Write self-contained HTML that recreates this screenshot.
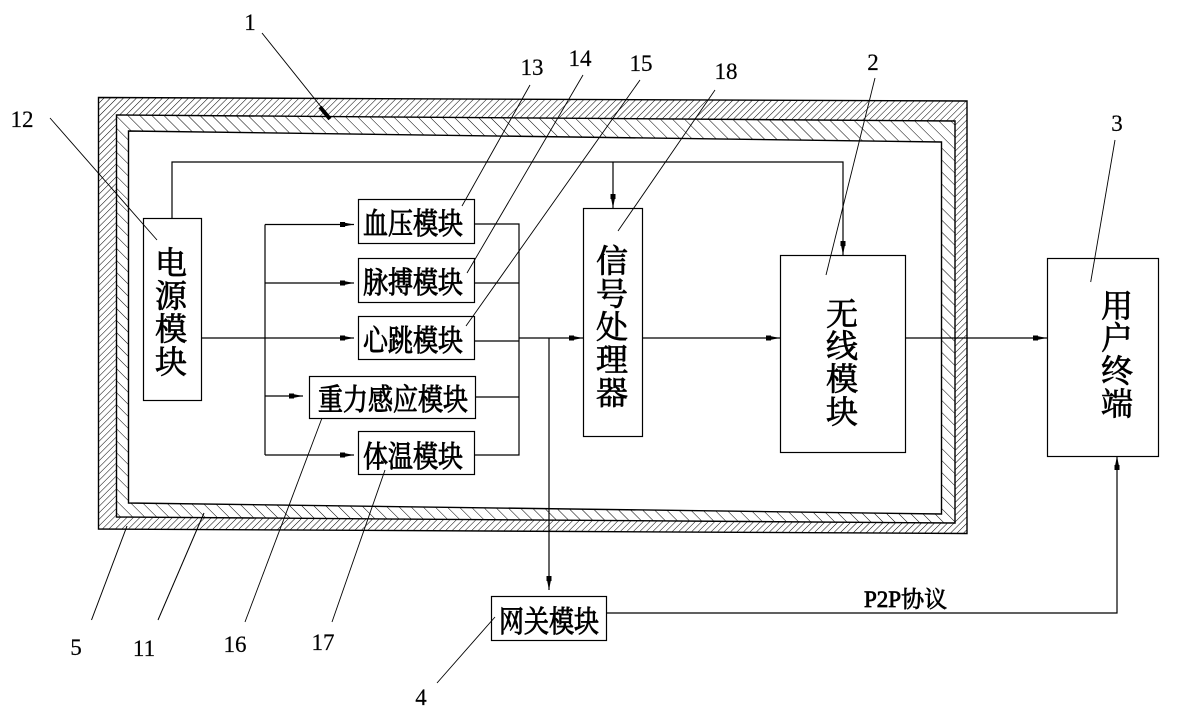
<!DOCTYPE html>
<html>
<head>
<meta charset="utf-8">
<style>
html,body{margin:0;padding:0;background:#fff;width:1197px;height:719px;overflow:hidden}
svg{display:block}
.z{font-family:"Liberation Serif","Noto Serif CJK SC",serif;font-weight:400;fill:#000;stroke:#000;stroke-width:.75}
.n{font-family:"Liberation Serif",serif;font-size:23px;fill:#000;stroke:#000;stroke-width:.2;text-anchor:middle}
</style>
</head>
<body>
<svg width="1197" height="719" viewBox="0 0 1197 719" xmlns="http://www.w3.org/2000/svg">
<defs>
<pattern id="h1" width="4.6" height="4.6" patternUnits="userSpaceOnUse" patternTransform="rotate(45)">
<rect width="4.6" height="4.6" fill="#fff"/><line x1="0" y1="0" x2="0" y2="4.6" stroke="#000" stroke-width="1"/>
</pattern>
<pattern id="h2" width="8.5" height="8.5" patternUnits="userSpaceOnUse" patternTransform="rotate(-45)">
<rect width="8.5" height="8.5" fill="#fff"/><line x1="0" y1="0" x2="0" y2="8.5" stroke="#000" stroke-width="1"/>
</pattern>
<marker id="a" markerWidth="16" markerHeight="8" refX="15" refY="4" orient="auto" markerUnits="userSpaceOnUse">
<path d="M1 1.5L6 1.5L6 2.2L15 4L6 5.8L6 6.5L1 6.5Z" fill="#000"/>
</marker>
</defs>

<polygon points="98.5,97.5 967,101 967,533.5 98.5,529" fill="url(#h1)" stroke="#000" stroke-width="1.4"/>
<polygon points="116.5,115 955,121 955,523 116.5,517" fill="url(#h2)" stroke="#000" stroke-width="1.4"/>
<polygon points="128.5,131 941.5,142 941.5,514 128.5,503" fill="#fff" stroke="#000" stroke-width="1.4"/>
<path d="M262 33L330 118" fill="none" stroke="#000" stroke-width="1"/>
<path d="M91.5 620L127 526" fill="none" stroke="#000" stroke-width="1"/>
<path d="M158 620L204 513" fill="none" stroke="#000" stroke-width="1"/>
<path d="M320 107L330 119" stroke="#000" stroke-width="4" fill="none"/>

<g fill="none" stroke="#000" stroke-width="1.2">
<path d="M172 218V162H843V255" marker-end="url(#a)"/>
<path d="M613 162V208" marker-end="url(#a)"/>
<path d="M201 338H354" marker-end="url(#a)"/>
<path d="M265 224.500V455"/>
<path d="M265 224.500H354" marker-end="url(#a)"/>
<path d="M265 283H354" marker-end="url(#a)"/>
<path d="M265 396H303" marker-end="url(#a)"/>
<path d="M265 455H354" marker-end="url(#a)"/>
<path d="M474 224H519V455H474"/>
<path d="M474 283H519"/>
<path d="M474 341H519"/>
<path d="M475 397H519"/>
<path d="M519 338H583" marker-end="url(#a)"/>
<path d="M549 338V590" marker-end="url(#a)"/>
<path d="M642 338H780" marker-end="url(#a)"/>
<path d="M905 338H1047" marker-end="url(#a)"/>
<path d="M606 613H1117V456" marker-end="url(#a)"/>
</g>

<g fill="#fff" stroke="#000" stroke-width="1.2">
<rect x="143.500" y="218.500" width="58" height="182"/>
<rect x="358.500" y="199.500" width="116" height="44"/>
<rect x="358.500" y="258.500" width="116" height="44"/>
<rect x="358.500" y="316.500" width="116" height="43"/>
<rect x="309.500" y="376.500" width="166" height="42"/>
<rect x="358.500" y="431.500" width="116" height="43"/>
<rect x="583.500" y="208.500" width="59" height="228"/>
<rect x="780.500" y="255.500" width="125" height="197"/>
<rect x="1047.500" y="258.500" width="111" height="198"/>
<rect x="491.500" y="596.500" width="115" height="44"/>
</g>

<g fill="none" stroke="#000" stroke-width=".9">
<path d="M50 118L157 240"/>
<path d="M530 85L462 206"/>
<path d="M583 75L467 273"/>
<path d="M640 80L466 326"/>
<path d="M715 90L618 231"/>
<path d="M875 78L826 275"/>
<path d="M1115 140L1090.700 282"/>
<path d="M245 622L322 418"/>
<path d="M332 622L385 470"/>
<path d="M437 683L495 617"/>
</g>

<g class="z" font-size="25">
<text transform="translate(363,234) scale(1,1.2)">血压模块</text>
<text transform="translate(363,293) scale(1,1.2)">脉搏模块</text>
<text transform="translate(363,351) scale(1,1.2)">心跳模块</text>
<text transform="translate(318,410) scale(1,1.2)">重力感应模块</text>
<text transform="translate(363,467) scale(1,1.2)">体温模块</text>
<text transform="translate(499,632) scale(1,1.2)">网关模块</text>
</g>
<g class="z" font-size="32" text-anchor="middle">
<text x="171" y="274">电</text>
<text x="171" y="307">源</text>
<text x="171" y="340">模</text>
<text x="171" y="373">块</text>
<text x="612" y="272">信</text>
<text x="612" y="305">号</text>
<text x="612" y="338">处</text>
<text x="612" y="371">理</text>
<text x="612" y="404">器</text>
<text x="842" y="325">无</text>
<text x="842" y="357">线</text>
<text x="842" y="390">模</text>
<text x="842" y="423">块</text>
<text x="1117" y="317">用</text>
<text x="1117" y="349">户</text>
<text x="1117" y="382">终</text>
<text x="1117" y="415">端</text>
</g>
<text class="z" x="864" y="607" font-size="23">P2P协议</text>

<g class="n">
<text x="250" y="30">1</text>
<text x="22" y="127">12</text>
<text x="532" y="75">13</text>
<text x="580" y="66">14</text>
<text x="641" y="71">15</text>
<text x="726" y="79">18</text>
<text x="873" y="70">2</text>
<text x="1117" y="131">3</text>
<text x="76" y="655">5</text>
<text x="144" y="656">11</text>
<text x="235" y="652">16</text>
<text x="323" y="650">17</text>
<text x="421" y="705">4</text>
</g>
</svg>
</body>
</html>
